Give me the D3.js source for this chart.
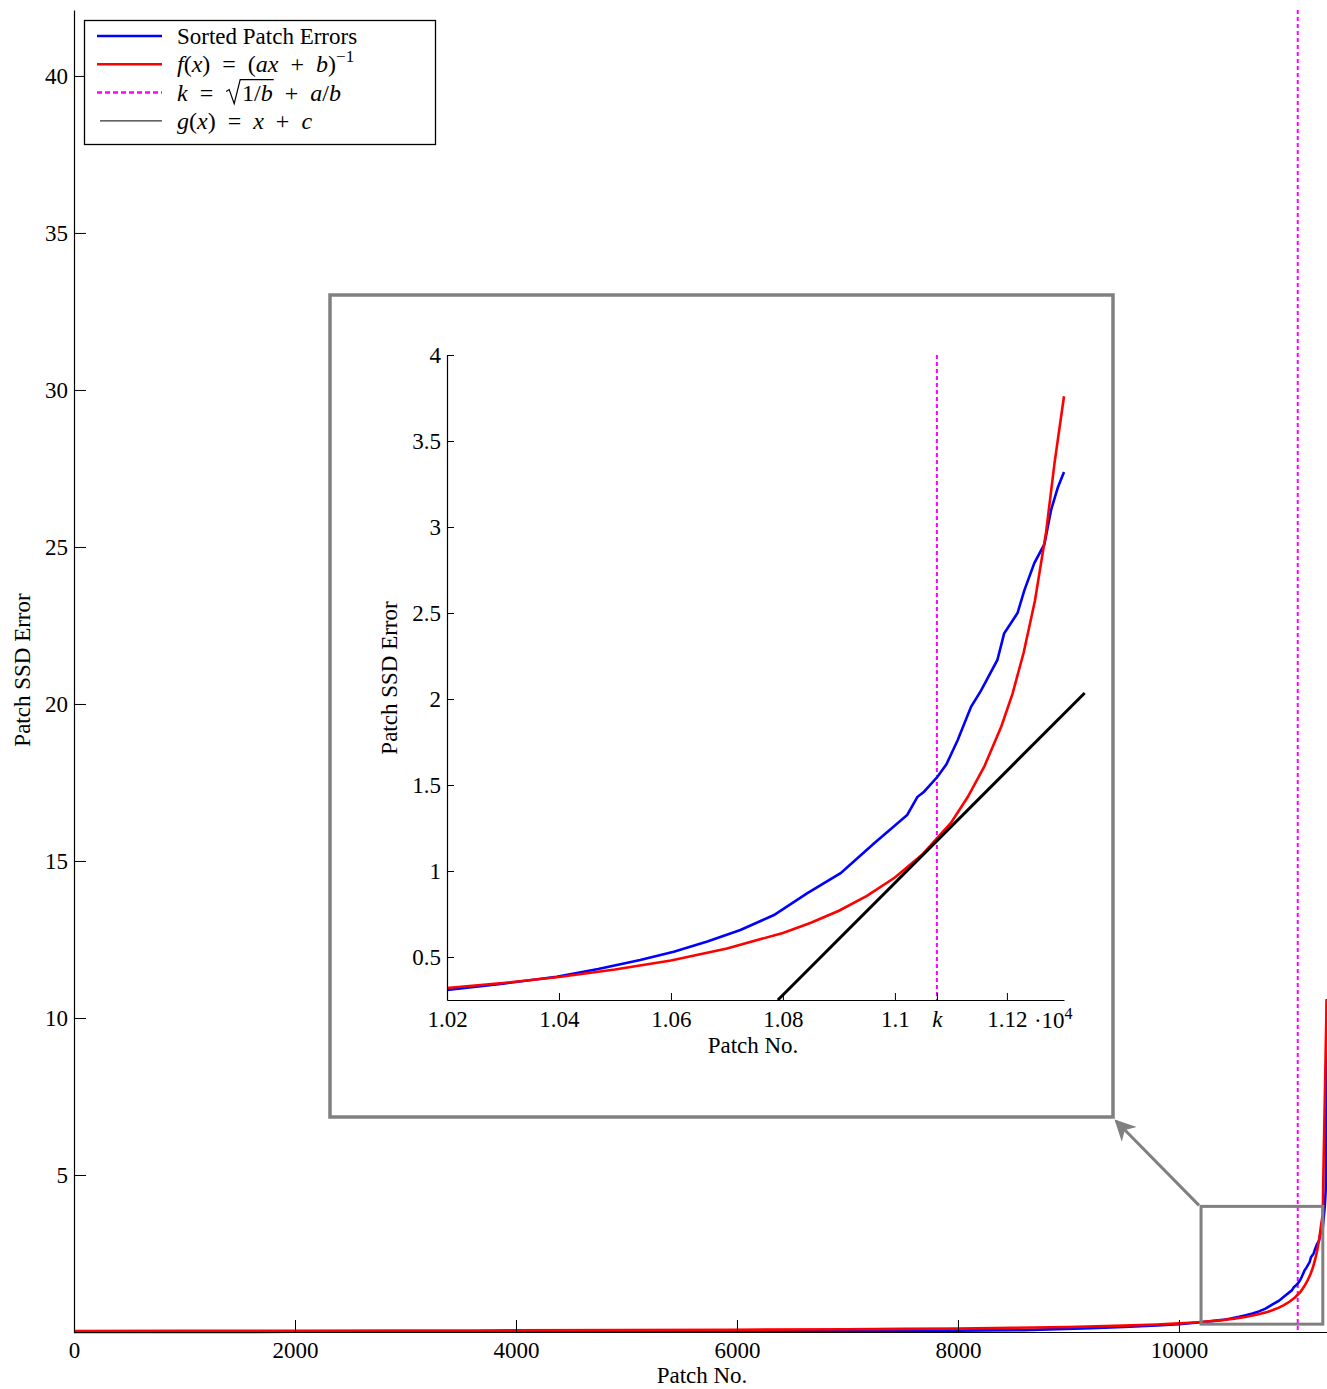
<!DOCTYPE html>
<html>
<head>
<meta charset="utf-8">
<script src="https://cdn.jsdelivr.net/npm/d3@7"></script>
<style>
  body { margin: 0; background: #fff; }
  text { font-family: "Liberation Serif", "DejaVu Serif", serif; fill: #000; }
</style>
</head>
<body>
<svg id="chart" width="1327" height="1389"></svg>
<script>
// sorted patch errors, [patch no, ssd error]
const sortedErrors = [
  [0, 0.0], [1000, 0.003], [2000, 0.006], [3000, 0.01], [4000, 0.015], [5000, 0.02],
  [6000, 0.027], [7000, 0.035], [8000, 0.045], [8600, 0.06], [8900, 0.09], [9200, 0.12],
  [9500, 0.16], [9800, 0.21], [10000, 0.25], [10200, 0.308], [10300, 0.345], [10396, 0.385],
  [10470, 0.43], [10545, 0.483], [10605, 0.531], [10665, 0.59], [10724, 0.657], [10784, 0.744],
  [10843, 0.87], [10903, 0.987], [10963, 1.161], [11022, 1.326], [11040, 1.43], [11052, 1.461],
  [11076, 1.548], [11092, 1.62], [11112, 1.76], [11136, 1.955], [11154, 2.05], [11183, 2.227],
  [11195, 2.38], [11219, 2.5], [11231, 2.63], [11249, 2.79], [11267, 2.9], [11279, 3.1],
  [11291, 3.23], [11302, 3.32], [11320, 4.0], [11328, 4.5], [11332, 5.9], [11340, 10.6]
];

// fitted curve f(x) = (ax + b)^-1
const fitCurve = [
  [0, 0.034], [1000, 0.037], [2000, 0.041], [3000, 0.046], [3650, 0.05], [4000, 0.052],
  [5000, 0.06], [6000, 0.071], [7000, 0.087], [7500, 0.098], [8000, 0.113], [8500, 0.132],
  [9000, 0.16], [9500, 0.202], [9800, 0.24], [10000, 0.274], [10100, 0.296], [10200, 0.32],
  [10300, 0.349], [10400, 0.384], [10500, 0.427], [10600, 0.48], [10700, 0.549], [10800, 0.64],
  [10850, 0.699], [10900, 0.769], [10950, 0.855], [11000, 0.962], [11050, 1.099], [11100, 1.28],
  [11130, 1.43], [11160, 1.61], [11190, 1.84], [11210, 2.03], [11230, 2.27], [11250, 2.57],
  [11270, 2.97], [11285, 3.37], [11302, 3.76], [11306, 4.8], [11321, 7.6], [11337, 10.6]
];

// knee point k and the tangent g(x) = x + c
const kValue = 11075;
const tangentLine = [[10791, 0.25], [11339, 2.035]];

const mainXTicks = [0, 2000, 4000, 6000, 8000, 10000];
const mainYTicks = [5, 10, 15, 20, 25, 30, 35, 40];
const zoomXDomain = [10200, 11302];
const zoomYDomain = [0.25, 4];
const zoomXTicks = [10200, 10400, 10600, 10800, 11000, kValue, 11200];
const zoomYTicks = [0.5, 1, 1.5, 2, 2.5, 3, 3.5, 4];

const BLUE = '#0000ff', RED = '#ff0000', MAGENTA = '#ff00ff', GREY = '#808080';
const FS = 23;

const svg = d3.select('#chart');

const x = d3.scaleLinear().domain([0, 11340]).range([74, 1327]);
const y = d3.scaleLinear().domain([0, 42.1]).range([1332, 10]);

const ix = d3.scaleLinear().domain(zoomXDomain).range([447, 1064]);
const iy = d3.scaleLinear().domain(zoomYDomain).range([1000, 355]);

// style up an axis group the matlab way
const styleAxis = g => {
  g.selectAll('path.domain').attr('stroke', '#000').attr('stroke-width', 1.2);
  g.selectAll('.tick line').attr('stroke', '#000').attr('stroke-width', 1);
  g.selectAll('.tick text')
    .attr('fill', '#000')
    .style('font-family', '"Liberation Serif", serif')
    .style('font-size', FS + 'px');
};

// ---- main plot ----
const mainLine = d3.line().x(d => x(d[0])).y(d => y(d[1]));

svg.append('line')
  .attr('x1', x(kValue)).attr('x2', x(kValue))
  .attr('y1', y.range()[1]).attr('y2', y.range()[0])
  .attr('stroke', MAGENTA).attr('stroke-width', 2).attr('stroke-dasharray', '4,3');

svg.append('path').datum(sortedErrors)
  .attr('d', mainLine).attr('fill', 'none')
  .attr('stroke', BLUE).attr('stroke-width', 2.6);

svg.append('path').datum(fitCurve)
  .attr('d', mainLine).attr('fill', 'none')
  .attr('stroke', RED).attr('stroke-width', 2.6);

svg.append('g')
  .attr('transform', `translate(0,${y(0)})`)
  .call(d3.axisBottom(x).tickValues(mainXTicks).tickFormat(d3.format('d'))
    .tickSizeInner(-12).tickSizeOuter(0).tickPadding(10))
  .call(styleAxis);

svg.append('g')
  .attr('transform', `translate(${x(0)},0)`)
  .call(d3.axisLeft(y).tickValues(mainYTicks).tickFormat(d3.format('d'))
    .tickSizeInner(-12).tickSizeOuter(0).tickPadding(6))
  .call(styleAxis);

svg.append('text')
  .attr('x', 702).attr('y', 1383)
  .attr('text-anchor', 'middle').style('font-size', FS + 'px')
  .text('Patch No.');

svg.append('text')
  .attr('transform', 'translate(30,670) rotate(-90)')
  .attr('text-anchor', 'middle').style('font-size', FS + 'px')
  .text('Patch SSD Error');

// zoom box on the main plot
const zx0 = x(zoomXDomain[0]), zx1 = x(zoomXDomain[1]);
const zy0 = y(zoomYDomain[1]), zy1 = y(zoomYDomain[0]);
svg.append('rect')
  .attr('x', zx0).attr('y', zy0)
  .attr('width', zx1 - zx0).attr('height', zy1 - zy0)
  .attr('fill', 'none').attr('stroke', GREY).attr('stroke-width', 3);

// ---- inset ----
const inset = { x0: 330, y0: 295, x1: 1113, y1: 1117 };

svg.append('rect')
  .attr('x', inset.x0).attr('y', inset.y0)
  .attr('width', inset.x1 - inset.x0).attr('height', inset.y1 - inset.y0)
  .attr('fill', '#fff').attr('stroke', GREY).attr('stroke-width', 3.5);

// arrow from zoom box to inset corner
svg.append('defs').append('marker')
  .attr('id', 'arrowhead')
  .attr('viewBox', '0 0 10 10').attr('refX', 9).attr('refY', 5)
  .attr('markerWidth', 8).attr('markerHeight', 7)
  .attr('markerUnits', 'strokeWidth')
  .attr('orient', 'auto')
  .append('path').attr('d', 'M0,0 L10,5 L0,10 L3,5 Z').attr('fill', GREY);

svg.append('line')
  .attr('x1', zx0 - 2).attr('y1', zy0 - 1)
  .attr('x2', inset.x1 + 3).attr('y2', inset.y1 + 4)
  .attr('stroke', GREY).attr('stroke-width', 3)
  .attr('marker-end', 'url(#arrowhead)');

const insetLine = d3.line().x(d => ix(d[0])).y(d => iy(d[1]));
const inZoom = d => d[0] >= zoomXDomain[0] && d[0] <= zoomXDomain[1];

svg.append('line')
  .attr('x1', ix(kValue)).attr('x2', ix(kValue))
  .attr('y1', iy.range()[1]).attr('y2', iy.range()[0])
  .attr('stroke', MAGENTA).attr('stroke-width', 2).attr('stroke-dasharray', '4,3');

svg.append('path').datum(sortedErrors.filter(inZoom))
  .attr('d', insetLine).attr('fill', 'none')
  .attr('stroke', BLUE).attr('stroke-width', 2.6);
svg.append('path').datum(fitCurve.filter(inZoom))
  .attr('d', insetLine).attr('fill', 'none')
  .attr('stroke', RED).attr('stroke-width', 2.6);

svg.append('path').datum(tangentLine)
  .attr('d', insetLine).attr('fill', 'none')
  .attr('stroke', '#000').attr('stroke-width', 3);

const zoomFmt = d => d === kValue ? 'k' : String(+(d / 1e4).toFixed(2));

const insetX = svg.append('g')
  .attr('transform', `translate(0,${iy.range()[0]})`)
  .call(d3.axisBottom(ix).tickValues(zoomXTicks).tickFormat(zoomFmt)
    .tickSizeInner(-7).tickSizeOuter(0).tickPadding(11))
  .call(styleAxis);
insetX.selectAll('.tick text').filter(d => d === kValue).style('font-style', 'italic');

svg.append('g')
  .attr('transform', `translate(${ix.range()[0]},0)`)
  .call(d3.axisLeft(iy).tickValues(zoomYTicks).tickFormat(d => String(d))
    .tickSizeInner(-7).tickSizeOuter(0).tickPadding(6))
  .call(styleAxis);

// the x10^4 multiplier next to the last tick
const mult = svg.append('text')
  .attr('x', ix(11200) + 27).attr('y', iy.range()[0] + 28)
  .style('font-size', FS + 'px');
mult.append('tspan').text('·10');
mult.append('tspan').attr('dy', -9).style('font-size', '16px').text('4');

svg.append('text')
  .attr('x', 753).attr('y', 1053)
  .attr('text-anchor', 'middle').style('font-size', FS + 'px')
  .text('Patch No.');

svg.append('text')
  .attr('transform', 'translate(397,678) rotate(-90)')
  .attr('text-anchor', 'middle').style('font-size', FS + 'px')
  .text('Patch SSD Error');

// ---- legend ----
// math rows get tex-ish wide spacing round = and +
const EQ = '\u2002=\u2002', PLUS = '\u2002+\u2002';
const legendRows = [
  { color: BLUE, width: 2.5, dash: null, x0: 97, size: 23,
    runs: [['Sorted Patch Errors']] },
  { color: RED, width: 2.5, dash: null, x0: 97, size: 24,
    runs: [['f', 'i'], ['('], ['x', 'i'], [')' + EQ + '('], ['ax', 'i'], [PLUS], ['b', 'i'], [')'], ['−1', 'sup']] },
  { color: MAGENTA, width: 2.5, dash: '5,3', x0: 97, size: 24,
    runs: [['k', 'i'], [EQ], ['\u2002\u2009', 'rad'], ['1/', 'o'], ['b', 'io'], [PLUS], ['a', 'i'], ['/'], ['b', 'i']] },
  { color: '#000', width: 1, dash: null, x0: 100, size: 24,
    runs: [['g', 'i'], ['('], ['x', 'i'], [')' + EQ], ['x', 'i'], [PLUS], ['c', 'i']] }
];

const legend = svg.append('g');
legend.append('rect')
  .attr('x', 84.5).attr('y', 20.5).attr('width', 351).attr('height', 124)
  .attr('fill', '#fff').attr('stroke', '#000').attr('stroke-width', 1.3);

legendRows.forEach((row, i) => {
  const ly = 36 + i * 28.3;
  const by = ly + 8;
  legend.append('line')
    .attr('x1', row.x0).attr('x2', 162).attr('y1', ly).attr('y2', ly)
    .attr('stroke', row.color).attr('stroke-width', row.width)
    .attr('stroke-dasharray', row.dash);

  const t = legend.append('text')
    .attr('x', 177).attr('y', by)
    .style('font-size', row.size + 'px');
  let idx = 0, rStart = null, oEnd = null, supShift = 0;
  row.runs.forEach(([str, st = '']) => {
    const sp = t.append('tspan').text(str);
    if (st.includes('i')) sp.style('font-style', 'italic');
    if (st === 'sup') { sp.attr('dy', -10).style('font-size', '17px'); supShift = 10; }
    else if (supShift) { sp.attr('dy', supShift); supShift = 0; }
    if (st === 'rad') rStart = idx;
    if (st.includes('o')) oEnd = idx + str.length - 1;
    idx += str.length;
  });
  // radical sign drawn as a path, with its bar over 1/b
  if (rStart !== null) {
    const node = t.node();
    const xr = node.getStartPositionOfChar(rStart).x + 1;
    const xb = node.getEndPositionOfChar(oEnd).x + 1;
    legend.append('path')
      .attr('d', `M${xr},${by - 9} L${xr + 3},${by - 11} L${xr + 8},${by + 3} L${xr + 14},${by - 21} H${xb}`)
      .attr('fill', 'none').attr('stroke', '#000').attr('stroke-width', 1.2)
      .attr('stroke-linejoin', 'miter');
  }
});
</script>
</body>
</html>
